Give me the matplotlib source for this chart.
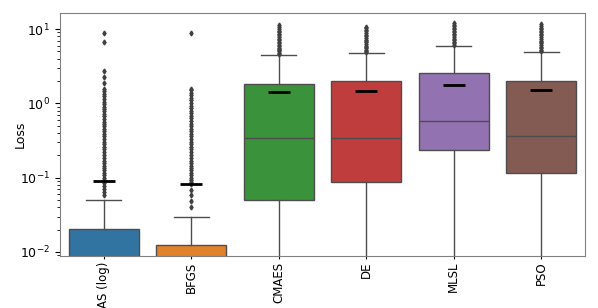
import matplotlib
matplotlib.use("Agg")
import matplotlib.pyplot as plt

methods = ['AS (log)', 'BFGS', 'CMAES', 'DE', 'MLSL', 'PSO']
colors = ['#3274a1', '#e1812c', '#3a923a', '#c03d3e', '#9372b2', '#845b53']

# box stats (log axis)
q1 = [0.003, 0.002, 0.050, 0.088, 0.236, 0.117]
med = [0.005, 0.004, 0.342, 0.345, 0.574, 0.360]
q3 = [0.0204, 0.0124, 1.81, 2.00, 2.54, 2.02]
mean = [0.090, 0.081, 1.41, 1.48, 1.77, 1.50]
whislo = [0.001, 0.001, 0.001, 0.001, 0.001, 0.001]
whishi = [0.050, 0.0298, 4.43, 4.72, 5.98, 4.88]

fliers_as = [8.8, 6.8, 2.75, 2.25, 1.87, 1.55, 1.45, 1.35, 1.25, 1.15, 1.05, 0.97,
             0.9, 0.84, 0.78, 0.72, 0.67, 0.62, 0.57, 0.53, 0.49, 0.45, 0.42, 0.39,
             0.36, 0.33, 0.305, 0.28, 0.26, 0.24, 0.22, 0.2, 0.185, 0.17, 0.157,
             0.145, 0.135, 0.125, 0.115, 0.107, 0.1, 0.094, 0.085, 0.078, 0.071,
             0.065, 0.059]
fliers_bfgs = [8.8, 1.55, 1.5, 1.4, 1.3, 1.2, 1.1, 1.0, 0.93, 0.86, 0.8, 0.74, 0.68,
               0.63, 0.58, 0.53, 0.49, 0.45, 0.42, 0.39, 0.36, 0.33, 0.305, 0.28,
               0.26, 0.24, 0.22, 0.2, 0.185, 0.17, 0.157, 0.145, 0.135, 0.125, 0.115,
               0.107, 0.1, 0.094, 0.088, 0.082, 0.068, 0.058, 0.049, 0.040]
fliers_cmaes = [4.6, 4.8, 5.0, 5.2, 5.4, 5.6, 5.9, 6.2, 6.5, 6.8, 7.1, 7.4, 7.8,
                8.2, 8.6, 9.0, 9.5, 10.0, 10.6, 11.3]
fliers_de = [4.9, 5.1, 5.3, 5.5, 5.7, 6.0, 6.3, 6.6, 6.9, 7.2, 7.6, 8.0, 8.4,
             8.8, 9.3, 9.8, 10.3, 10.8]
fliers_mlsl = [6.2, 6.5, 6.8, 7.1, 7.4, 7.8, 8.2, 8.6, 9.0, 9.5, 10.0, 10.5,
               11.0, 11.5, 12.0]
fliers_pso = [5.1, 5.3, 5.5, 5.8, 6.1, 6.4, 6.7, 7.0, 7.4, 7.8, 8.2, 8.6, 9.0,
              9.5, 10.0, 10.5, 11.0, 11.6]
fliers = [fliers_as, fliers_bfgs, fliers_cmaes, fliers_de, fliers_mlsl, fliers_pso]

stats = []
for i in range(len(methods)):
    stats.append(dict(label=methods[i], q1=q1[i], med=med[i], q3=q3[i],
                      mean=mean[i], whislo=whislo[i], whishi=whishi[i],
                      fliers=fliers[i]))

fig, ax = plt.subplots(figsize=(5.98, 3.08), dpi=100)
fig.subplots_adjust(left=0.1, right=0.978, top=0.958, bottom=0.169)

edge = '0.3'
bp = ax.bxp(stats, positions=range(len(methods)), widths=0.8, patch_artist=True,
            showmeans=True,
            boxprops=dict(edgecolor=edge, linewidth=1),
            medianprops=dict(color=edge, linewidth=1),
            whiskerprops=dict(color=edge, linewidth=1),
            capprops=dict(color=edge, linewidth=1),
            flierprops=dict(marker='d', markersize=2.5, markerfacecolor='0.25',
                            markeredgecolor='0.25', linestyle='none'),
            meanprops=dict(marker='_', markersize=16, markeredgewidth=2,
                           color='black', markeredgecolor='black'))
for patch, c in zip(bp['boxes'], colors):
    patch.set_facecolor(c)

ax.set_yscale('log')
ax.set_ylim(0.00884, 16.5)
ax.set_xlim(-0.5, len(methods) - 0.5)
ax.set_ylabel('Loss', fontsize=9)
ax.yaxis.set_label_coords(-0.063, 0.5)
ax.set_xticks(range(len(methods)))
ax.set_xticklabels(methods, rotation=90, fontsize=8.5)
ax.tick_params(axis='x', length=2, pad=2)
ax.tick_params(axis='y', labelsize=9)
for s in ax.spines.values():
    s.set_color('0.5')

fig.savefig('out.png', dpi=100)
